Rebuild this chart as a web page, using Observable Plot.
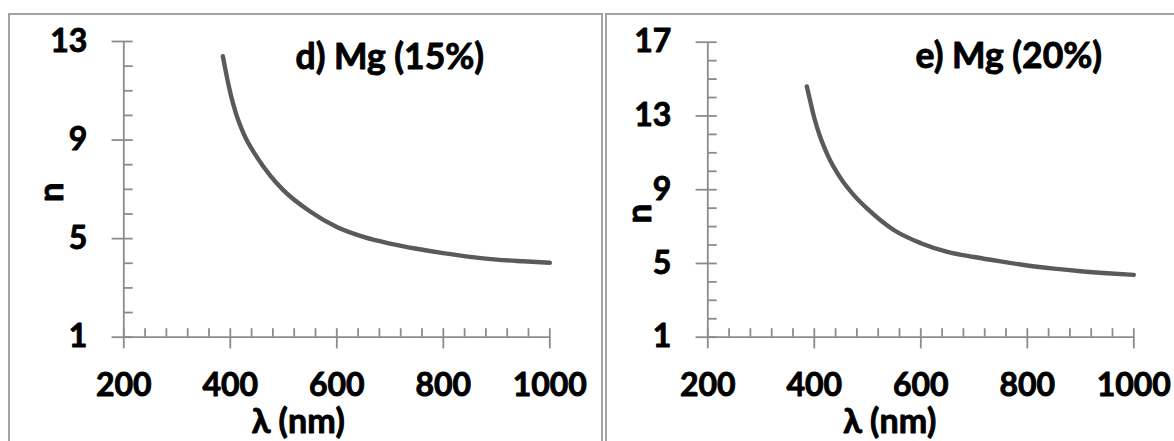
<!DOCTYPE html>
<html>
<head>
<meta charset="utf-8">
<script src="https://cdn.jsdelivr.net/npm/d3@7"></script>
<script src="https://cdn.jsdelivr.net/npm/@observablehq/plot@0.6"></script>
<style>
  html, body { margin: 0; padding: 0; background: #fff; }
  #chart { position: relative; width: 1174px; height: 441px; overflow: hidden; }
  .panel { position: absolute; top: 0; }
  .frame { position: absolute; box-sizing: border-box; border: 2px solid #a3a3a3; pointer-events: none; }
</style>
</head>
<body>
<div id="chart"></div>
<script>
// Wavelength (nm) and refractive index n for the two Mg-doped films
const wavelengths = [386, 390, 400, 410, 425, 450, 475, 500, 550, 600, 650, 700, 750, 800, 850, 900, 950, 1000];
const nMg15 = [12.40, 11.95, 10.92, 10.12, 9.26, 8.31, 7.56, 6.96, 6.10, 5.47, 5.07, 4.80, 4.59, 4.41, 4.26, 4.15, 4.08, 4.02];
const nMg20 = [14.60, 14.10, 12.89, 11.95, 10.88, 9.60, 8.68, 7.96, 6.80, 6.10, 5.63, 5.35, 5.11, 4.89, 4.72, 4.58, 4.47, 4.38];

// Axis ticks and labels
const xTicks = [200, 400, 600, 800, 1000];
const yTicksMg15 = [1, 5, 9, 13];
const yTicksMg20 = [1, 5, 9, 13, 17];
const titles = ["d) Mg (15%)", "e) Mg (20%)"];
const xLabel = "λ (nm)";
const yLabel = "n";

const axisColor = "#8c8c8c";
const lineColor = "#5a5a5a";
const font = "Lato, 'Open Sans', sans-serif";

function panel({n, yTicks, title, marginTop, yLabelDx, yLabelDy, xLabelDx, titleDx, titleDy}) {
  const yMax = yTicks[yTicks.length - 1];
  const rows = wavelengths.map((w, i) => ({w, n: n[i]}));
  const xMinor = d3.range(240, 1000, 40).filter(v => !xTicks.includes(v));
  const yMinor = d3.range(2, yMax, 1).filter(v => !yTicks.includes(v));
  // heavy bold text: a thin outline under the fill thickens the strokes
  const textStyle = {fontFamily: font, fontWeight: "bold", fill: "#000", stroke: "#000", strokeWidth: 0.9, lineAnchor: "middle", textAnchor: "middle"};
  return Plot.plot({
    width: 590,
    height: 441,
    marginLeft: 123.3,
    marginRight: 40.7,
    marginTop,
    marginBottom: 104.3,
    x: {domain: [200, 1000], axis: null},
    y: {domain: [1, yMax], axis: null},
    style: {background: "transparent", overflow: "visible"},
    marks: [
      // axis lines
      Plot.ruleY([1], {stroke: axisColor, strokeWidth: 1.8}),
      Plot.ruleX([200], {y1: 1, y2: yMax, stroke: axisColor, strokeWidth: 1.8}),
      // x ticks: major cross the axis, minor point inward
      Plot.ruleX(xTicks, {x: d => d, y1: 1, y2: 1, insetTop: 11.7, insetBottom: 8.5, stroke: axisColor, strokeWidth: 1.8}),
      Plot.ruleX(xMinor, {x: d => d, y1: 1, y2: 1, insetTop: 0, insetBottom: 8.5, stroke: axisColor, strokeWidth: 1.8}),
      // y ticks
      Plot.ruleY(yTicks, {y: d => d, x1: 200, x2: 200, insetLeft: -11.7, insetRight: -9.4, stroke: axisColor, strokeWidth: 1.8}),
      Plot.ruleY(yMinor, {y: d => d, x1: 200, x2: 200, insetLeft: 0, insetRight: -9.4, stroke: axisColor, strokeWidth: 1.8}),
      // tick labels
      Plot.text(xTicks, {x: d => d, y: 1, dy: 48.6, text: d => String(d), fontSize: 32, ...textStyle}),
      Plot.text(yTicks, {x: 200, y: d => d, dx: -36.5, text: d => String(d), fontSize: 32, ...textStyle, textAnchor: "end"}),
      // axis titles
      Plot.text([xLabel], {frameAnchor: "bottom", dx: xLabelDx, dy: 85, text: d => d, fontSize: 34, ...textStyle}),
      Plot.text([yLabel], {frameAnchor: "left", dx: yLabelDx, dy: yLabelDy, rotate: -90, text: d => d, fontSize: 35, ...textStyle}),
      // panel title
      Plot.text([title], {frameAnchor: "top", dx: titleDx, dy: titleDy, text: d => d, fontSize: 35.5, ...textStyle}),
      // dispersion curve
      Plot.line(rows, {x: "w", y: "n", stroke: lineColor, strokeWidth: 4.4, strokeLinecap: "round", curve: "monotone-x"})
    ]
  });
}

const chart = document.getElementById("chart");

const left = panel({n: nMg15, yTicks: yTicksMg15, title: titles[0], marginTop: 41, yLabelDx: -72, yLabelDy: 3, xLabelDx: -38.5, titleDx: 53, titleDy: 16});
left.classList.add("panel");
left.style.left = "0px";
chart.appendChild(left);

const right = panel({n: nMg20, yTicks: yTicksMg20, title: titles[1], marginTop: 41.7, yLabelDx: -68.5, yLabelDy: 24, xLabelDx: -31, titleDx: 88, titleDy: 14});
right.classList.add("panel");
right.style.left = "584px";
chart.appendChild(right);

// panel borders
for (const [l, w] of [[8, 595], [605, 600]]) {
  const f = document.createElement("div");
  f.className = "frame";
  Object.assign(f.style, {left: l + "px", top: "13px", width: w + "px", height: "460px"});
  chart.appendChild(f);
}
</script>
</body>
</html>
